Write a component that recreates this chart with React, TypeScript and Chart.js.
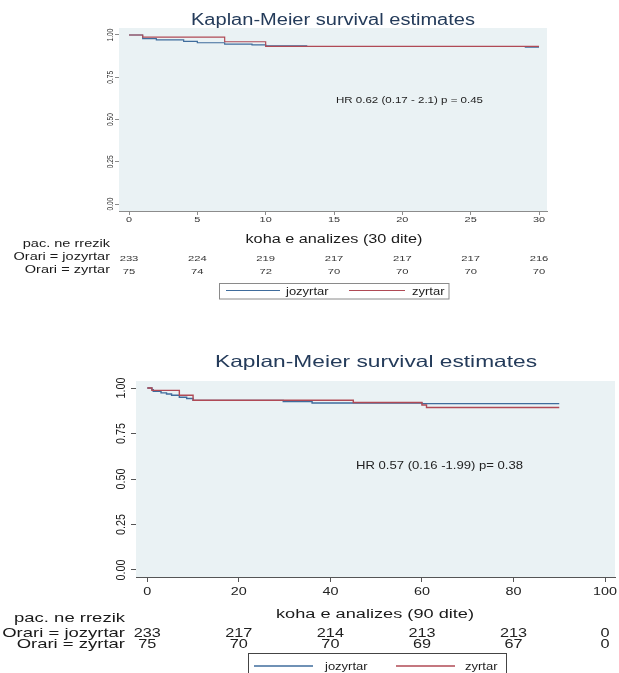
import React, { useEffect, useRef } from 'react';
import { Chart, registerables } from 'chart.js';

Chart.register(...registerables);

// ---------------- DATA ----------------
const SERIES_NAMES = ['jozyrtar', 'zyrtar'];
const ROW_LABELS = ['Orari = jozyrtar', 'Orari = zyrtar'];
const RISK_HEADER = 'pac. ne rrezik';
const CHART_TITLE = 'Kaplan-Meier survival estimates';

// Panel 1: 30 days
const TIME_30_JOZYRTAR = [0, 1, 2, 4, 5, 7, 9, 10, 13, 29, 30];
const SURV_30_JOZYRTAR = [1, 0.979, 0.971, 0.962, 0.954, 0.946, 0.941, 0.936, 0.932, 0.928, 0.928];
const TIME_30_ZYRTAR = [0, 1, 7, 10, 30];
const SURV_30_ZYRTAR = [1, 0.987, 0.96, 0.933, 0.933];
const X_TICKS_30 = [0, 5, 10, 15, 20, 25, 30];
const RISK_TIMES_30 = [0, 5, 10, 15, 20, 25, 30];
const RISK_30_JOZYRTAR = [233, 224, 219, 217, 217, 217, 216];
const RISK_30_ZYRTAR = [75, 74, 72, 70, 70, 70, 70];
const X_TITLE_30 = 'koha e analizes (30 dite)';
const HR_TEXT_30 = 'HR 0.62 (0.17 - 2.1) p = 0.45';

// Panel 2: 90 days
const TIME_90_JOZYRTAR = [0, 1, 1.3, 3, 4.2, 5.3, 7, 8.6, 10, 29.7, 36, 60, 90];
const SURV_90_JOZYRTAR = [1, 0.991, 0.982, 0.973, 0.967, 0.96, 0.949, 0.942, 0.932, 0.926, 0.918, 0.914, 0.914];
const TIME_90_ZYRTAR = [0, 1, 7, 10, 45, 60, 61, 90];
const SURV_90_ZYRTAR = [1, 0.987, 0.96, 0.933, 0.92, 0.907, 0.893, 0.893];
const X_TICKS_90 = [0, 20, 40, 60, 80, 100];
const RISK_TIMES_90 = [0, 20, 40, 60, 80, 100];
const RISK_90_JOZYRTAR = [233, 217, 214, 213, 213, 0];
const RISK_90_ZYRTAR = [75, 70, 70, 69, 67, 0];
const X_TITLE_90 = 'koha e analizes (90 dite)';
const HR_TEXT_90 = 'HR 0.57 (0.16 -1.99) p= 0.38';

const Y_TICKS = [0, 0.25, 0.5, 0.75, 1];

// ---------------- STYLE / LAYOUT ----------------
const BLUE = '#3f6c9c';
const RED = '#b04a55';
const PLOT_BG = '#eaf2f4';
const TITLE_COLOR = '#243b5a';
const FONT = '"Liberation Sans", Arial, Helvetica, sans-serif';

type TextOpt = {
  size: number;
  align?: CanvasTextAlign;
  color?: string;
  sx?: number;
  w?: number;
  rot?: number;
  baseline?: CanvasTextBaseline;
};

function drawText(ctx: CanvasRenderingContext2D, s: string, x: number, y: number, o: TextOpt) {
  ctx.save();
  ctx.font = `${o.size}px ${FONT}`;
  ctx.fillStyle = o.color || '#222';
  ctx.textBaseline = o.baseline || 'alphabetic';
  ctx.textAlign = o.align || 'left';
  const nat = ctx.measureText(s).width;
  const sx = o.w ? o.w / nat : o.sx || 1;
  ctx.translate(x, y);
  ctx.scale(sx, 1);
  if (o.rot) ctx.rotate(o.rot);
  ctx.fillText(s, 0, 0);
  ctx.restore();
}

function toPoints(t: number[], s: number[]) {
  return t.map((x, i) => ({ x, y: s[i] }));
}

const PANEL_30 = {
  top: 0,
  width: 619,
  height: 320,
  padding: { left: 99, right: 72, top: 28, bottom: 89 },
  xMin: -0.732,
  xMax: 30.585,
  yMin: -0.0414,
  yMax: 1.0414,
  xTicks: X_TICKS_30,
  axisColor: '#8c8c8c',
  tickLen: 4,
  lineWidth: 1.2,
  series: [
    { t: TIME_30_JOZYRTAR, s: SURV_30_JOZYRTAR },
    { t: TIME_30_ZYRTAR, s: SURV_30_ZYRTAR },
  ],
  riskTimes: RISK_TIMES_30,
  risk: [RISK_30_JOZYRTAR, RISK_30_ZYRTAR],
  title: { x: 333, y: 25, size: 16, w: 284 },
  hr: { text: HR_TEXT_30, x: 336, y: 103, size: 9.3, w: 147 },
  xTitle: { text: X_TITLE_30, x: 334, y: 243.3, size: 12.3, w: 177 },
  xTickLab: { y: 221.5, size: 7.5, sx: 1.45, color: '#333' },
  yTickLab: { x: 111, size: 6.6, sx: 1.3, color: '#333' },
  rowLab: { x: 110, ys: [247.3, 260, 272.7], size: 10.7, sx: 1.36 },
  nums: { ys: [261, 273.5], size: 8, sx: 1.4, color: '#333' },
  legend: {
    box: [219.5, 283.5, 229.5, 15.5],
    border: '#8a8a8a',
    lineY: 290.5,
    textY: 294.5,
    items: [
      { x1: 226, x2: 280, tx: 286 },
      { x1: 349, x2: 405, tx: 412 },
    ],
    size: 10,
    sx: 1.3,
  },
};

const PANEL_90 = {
  top: 320,
  width: 619,
  height: 353,
  padding: { left: 116, right: 4, top: 61, bottom: 76 },
  xMin: -2.47,
  xMax: 102.18,
  yMin: -0.0385,
  yMax: 1.0385,
  xTicks: X_TICKS_90,
  axisColor: '#555555',
  tickLen: 5,
  lineWidth: 1.4,
  series: [
    { t: TIME_90_JOZYRTAR, s: SURV_90_JOZYRTAR },
    { t: TIME_90_ZYRTAR, s: SURV_90_ZYRTAR },
  ],
  riskTimes: RISK_TIMES_90,
  risk: [RISK_90_JOZYRTAR, RISK_90_ZYRTAR],
  title: { x: 376, y: 366.7, size: 16.5, w: 322 },
  hr: { text: HR_TEXT_90, x: 356, y: 469, size: 11.6, w: 167 },
  xTitle: { text: X_TITLE_90, x: 375, y: 618.3, size: 13.7, w: 198 },
  xTickLab: { y: 595, size: 11.6, sx: 1.24, color: '#222' },
  yTickLab: { x: 121, size: 10.8, sx: 1.25, color: '#222' },
  rowLab: { x: 125, ys: [621.7, 636.7, 648.3], size: 13.6, sx: 1.36 },
  nums: { ys: [636.7, 648.3], size: 12.6, sx: 1.29, color: '#222' },
  legend: {
    box: [248.5, 653.5, 258, 40],
    border: '#444444',
    lineY: 666,
    textY: 670,
    items: [
      { x1: 254, x2: 313, tx: 325 },
      { x1: 396, x2: 455, tx: 465 },
    ],
    size: 10,
    sx: 1.3,
  },
};

type Panel = typeof PANEL_30;

function makeChart(canvas: HTMLCanvasElement, p: Panel) {
  const colors = [BLUE, RED];
  const kmPlugin = {
    id: 'kmDecor',
    beforeDatasetsDraw(chart: any) {
      const { ctx, chartArea: a } = chart;
      ctx.save();
      ctx.fillStyle = PLOT_BG;
      ctx.fillRect(a.left, a.top, a.right - a.left, a.bottom - a.top);
      ctx.restore();
    },
    afterDraw(chart: any) {
      const ctx: CanvasRenderingContext2D = chart.ctx;
      const xs = chart.scales.x;
      const ys = chart.scales.y;
      ctx.save();
      ctx.translate(0, -p.top);
      // title
      drawText(ctx, CHART_TITLE, p.title.x, p.title.y, {
        size: p.title.size, w: p.title.w, align: 'center', color: TITLE_COLOR,
      });
      // HR annotation
      drawText(ctx, p.hr.text, p.hr.x, p.hr.y, { size: p.hr.size, w: p.hr.w, color: '#222' });
      // x tick labels
      p.xTicks.forEach((v) => {
        drawText(ctx, String(v), xs.getPixelForValue(v), p.xTickLab.y, {
          size: p.xTickLab.size, sx: p.xTickLab.sx, align: 'center', color: p.xTickLab.color,
        });
      });
      // y tick labels (rotated)
      Y_TICKS.forEach((v) => {
        drawText(ctx, v.toFixed(2), p.yTickLab.x, ys.getPixelForValue(v) + p.top, {
          size: p.yTickLab.size, sx: p.yTickLab.sx, align: 'center', baseline: 'middle',
          rot: -Math.PI / 2, color: p.yTickLab.color,
        });
      });
      // x axis title
      drawText(ctx, p.xTitle.text, p.xTitle.x, p.xTitle.y, {
        size: p.xTitle.size, w: p.xTitle.w, align: 'center', color: '#1a1a1a',
      });
      // risk table labels
      const labs = [RISK_HEADER, ...ROW_LABELS];
      labs.forEach((l, i) => {
        drawText(ctx, l, p.rowLab.x, p.rowLab.ys[i], {
          size: p.rowLab.size, sx: p.rowLab.sx, align: 'right', color: '#1a1a1a',
        });
      });
      // risk numbers
      p.risk.forEach((row, r) => {
        row.forEach((n, i) => {
          drawText(ctx, String(n), xs.getPixelForValue(p.riskTimes[i]), p.nums.ys[r], {
            size: p.nums.size, sx: p.nums.sx, align: 'center', color: p.nums.color,
          });
        });
      });
      // legend
      const L = p.legend;
      ctx.save();
      ctx.strokeStyle = L.border;
      ctx.lineWidth = 1;
      ctx.strokeRect(L.box[0], L.box[1], L.box[2], L.box[3]);
      L.items.forEach((it, i) => {
        ctx.strokeStyle = colors[i];
        ctx.lineWidth = p.lineWidth;
        ctx.beginPath();
        ctx.moveTo(it.x1, L.lineY);
        ctx.lineTo(it.x2, L.lineY);
        ctx.stroke();
        drawText(ctx, SERIES_NAMES[i], it.tx, L.textY, { size: L.size, sx: L.sx, color: '#222' });
      });
      ctx.restore();
      ctx.restore();
    },
  };

  return new Chart(canvas, {
    type: 'line',
    data: {
      datasets: p.series.map((sr, i) => ({
        label: SERIES_NAMES[i],
        data: toPoints(sr.t, sr.s),
        borderColor: colors[i],
        backgroundColor: colors[i],
        borderWidth: p.lineWidth,
        stepped: 'before' as const,
        pointRadius: 0,
        fill: false,
        order: i === 1 ? 0 : 1,
      })),
    },
    options: {
      animation: false,
      responsive: false,
      devicePixelRatio: 1,
      events: [],
      layout: { padding: p.padding },
      plugins: {
        legend: { display: false },
        title: { display: false },
        tooltip: { enabled: false },
      },
      scales: {
        x: {
          type: 'linear',
          min: p.xMin,
          max: p.xMax,
          afterBuildTicks: (s: any) => {
            s.ticks = p.xTicks.map((v) => ({ value: v }));
          },
          afterFit: (s: any) => {
            s.height = 20;
          },
          ticks: { display: false },
          grid: {
            display: true,
            drawOnChartArea: false,
            drawTicks: true,
            tickLength: p.tickLen,
            color: p.axisColor,
          },
          border: { display: true, color: p.axisColor, width: 1 },
        },
        y: {
          type: 'linear',
          min: p.yMin,
          max: p.yMax,
          afterBuildTicks: (s: any) => {
            s.ticks = Y_TICKS.map((v) => ({ value: v }));
          },
          afterFit: (s: any) => {
            s.width = 20;
          },
          ticks: { display: false },
          grid: {
            display: true,
            drawOnChartArea: false,
            drawTicks: true,
            tickLength: p.tickLen,
            color: p.axisColor,
          },
          border: { display: true, color: p.axisColor, width: 1 },
        },
      },
    } as any,
    plugins: [kmPlugin],
  });
}

export default function App() {
  const refA = useRef<HTMLCanvasElement>(null);
  const refB = useRef<HTMLCanvasElement>(null);

  useEffect(() => {
    const a = makeChart(refA.current as HTMLCanvasElement, PANEL_30);
    const b = makeChart(refB.current as HTMLCanvasElement, PANEL_90);
    return () => {
      a.destroy();
      b.destroy();
    };
  }, []);

  return (
    <div
      style={{
        position: 'fixed',
        left: 0,
        top: 0,
        width: 619,
        height: 673,
        background: '#ffffff',
        overflow: 'hidden',
      }}
    >
      <canvas
        ref={refA}
        width={PANEL_30.width}
        height={PANEL_30.height}
        style={{ position: 'absolute', left: 0, top: PANEL_30.top, width: PANEL_30.width, height: PANEL_30.height }}
      />
      <canvas
        ref={refB}
        width={PANEL_90.width}
        height={PANEL_90.height}
        style={{ position: 'absolute', left: 0, top: PANEL_90.top, width: PANEL_90.width, height: PANEL_90.height }}
      />
    </div>
  );
}
